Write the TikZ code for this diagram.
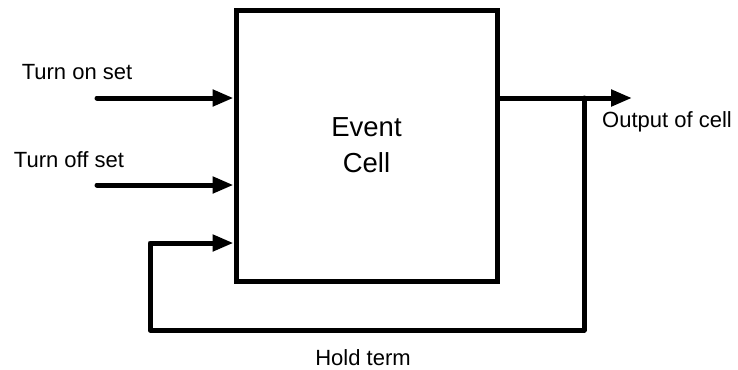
\documentclass[tikz,border=0pt]{standalone}
\usepackage{fontspec}
\setmainfont{Liberation Sans}
\usetikzlibrary{arrows.meta}

\tikzset{
    wire/.style={line width=5bp, line cap=round, line join=round},
    feed/.style={wire, -{Triangle[length=21bp, width=16bp]}},
    lbl/.style={font=\fontsize{22bp}{26bp}\selectfont, inner sep=0pt}
}

\begin{document}
\begin{tikzpicture}[x=1bp, y=-1bp]
    \useasboundingbox (0, 0) rectangle (738, 369);
    \node[draw, line width=5bp, minimum width=261bp, minimum height=271bp, inner sep=0pt,
          align=center, font=\fontsize{27.5bp}{36bp}\selectfont] (cell) at (366.5, 145.5) {Event\\Cell};

    % inputs
    \coordinate (on) at (97, 98);
    \coordinate (off) at (97, 185);
    \draw[feed] (on) -- (cell.west |- on);
    \draw[feed] (off) -- (cell.west |- off);
    \node[lbl] (onlbl) at (77, 72) {Turn on set};
    \node[lbl] (offlbl) at (69, 160) {Turn off set};

    % output and hold loop
    \coordinate (out) at (632, 98);
    \coordinate (tap) at (584, 98);
    \coordinate (hold) at (150, 243);
    \draw[feed] (cell.east |- out) -- (out);
    \draw[feed] (tap) -- (584, 330) -- (150, 330) -- (hold) -- (cell.west |- hold);
    \node[lbl, anchor=west] (outlbl) at (602, 122) {Output of cell};
    \node[lbl] (holdlbl) at (363, 358) {Hold term};
\end{tikzpicture}
\end{document}
